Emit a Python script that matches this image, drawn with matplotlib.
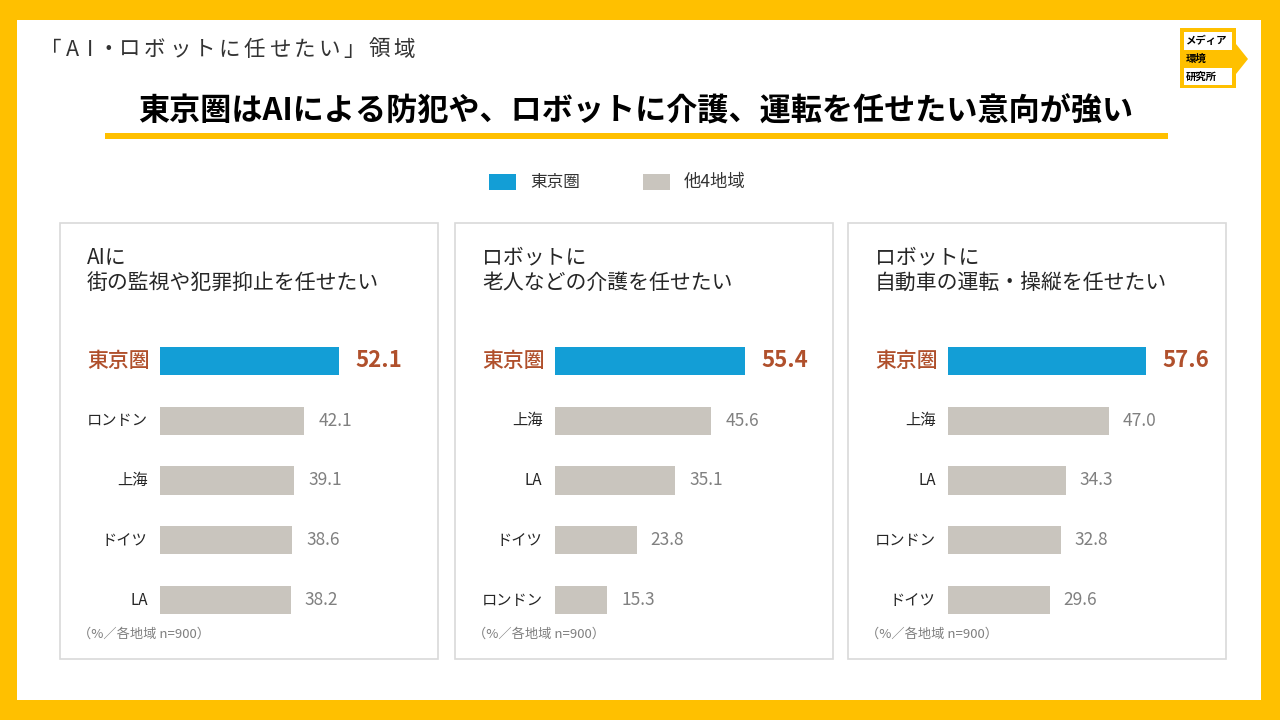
import matplotlib
matplotlib.use("Agg")
import matplotlib.pyplot as plt
from matplotlib.patches import Rectangle, Polygon

plt.rcParams['font.family'] = ['Noto Sans CJK JP', 'DejaVu Sans']

# データ
panel_titles = [
    "AIに\n街の監視や犯罪抑止を任せたい",
    "ロボットに\n老人などの介護を任せたい",
    "ロボットに\n自動車の運転・操縦を任せたい",
]
cats_1 = ["東京圏", "ロンドン", "上海", "ドイツ", "LA"]
vals_1 = [52.1, 42.1, 39.1, 38.6, 38.2]
cats_2 = ["東京圏", "上海", "LA", "ドイツ", "ロンドン"]
vals_2 = [55.4, 45.6, 35.1, 23.8, 15.3]
cats_3 = ["東京圏", "上海", "LA", "ロンドン", "ドイツ"]
vals_3 = [57.6, 47.0, 34.3, 32.8, 29.6]
note = "（%／各地域 n=900）"
header = "「AI・ロボットに任せたい」領域"

YELLOW = "#FFC000"
BLUE = "#139ED6"
GRAY = "#C9C5BE"
BROWN = "#B0502C"
W, H = 1280, 720

fig = plt.figure(figsize=(12.8, 7.2), dpi=100)
fig.patch.set_facecolor(YELLOW)

# 背景用の軸（ピクセル座標）
bg = fig.add_axes([0, 0, 1, 1])
bg.set_xlim(0, W)
bg.set_ylim(H, 0)
bg.axis("off")
bg.add_patch(Rectangle((17, 20), 1244, 680, facecolor="white", edgecolor="none"))

# 字間を空けた見出し
cx = 38
for ch in header:
    adv = 18 if ch in "AI・" else 25
    bg.text(cx + adv / 2, 50, ch, fontsize=15.5, color="#333333",
            va="center", ha="center")
    cx += adv

bg.text(636, 111, "東京圏はAIによる防犯や、ロボットに介護、運転を任せたい意向が強い",
        fontsize=22.4, fontweight="bold", color="black", va="center", ha="center")
bg.add_patch(Rectangle((105, 133), 1063, 6, facecolor=YELLOW, edgecolor="none"))

# ロゴ
bg.add_patch(Polygon([(1180, 28), (1236, 28), (1236, 44), (1248, 59),
                      (1236, 74), (1236, 88), (1180, 88)],
                     closed=True, facecolor=YELLOW, edgecolor="none"))
bg.add_patch(Rectangle((1184, 32), 48, 18, facecolor="white", edgecolor="none"))
bg.add_patch(Rectangle((1184, 68), 48, 17, facecolor="white", edgecolor="none"))
bg.text(1186, 41, "メディア", fontsize=7.5, fontweight="bold", va="center")
bg.text(1186, 59, "環境", fontsize=7.5, fontweight="bold", va="center")
bg.text(1186, 77, "研究所", fontsize=7.5, fontweight="bold", va="center")

# 凡例
bg.add_patch(Rectangle((489, 174), 27, 16, facecolor=BLUE, edgecolor="none"))
bg.text(530, 182, "東京圏", fontsize=12, color="#333333", va="center")
bg.add_patch(Rectangle((643, 174), 27, 16, facecolor=GRAY, edgecolor="none"))
bg.text(684, 182, "他4地域", fontsize=12.5, color="#333333", va="center")

panel_left = [60, 455, 848]
bar_left = [160, 555, 948]
panel_cats = [cats_1, cats_2, cats_3]
panel_vals = [vals_1, vals_2, vals_3]

px_per_unit = 3.43
ax_w = 250
ax_top, ax_bot = 331, 630

for i in range(3):
    x0 = panel_left[i]
    bg.add_patch(Rectangle((x0, 223), 378, 436, facecolor="white",
                           edgecolor="#D9D9D9", linewidth=1.2))
    bg.text(x0 + 27, 270, panel_titles[i], fontsize=15, color="#262626",
            va="center", ha="left", linespacing=1.2)
    bg.text(x0 + 18, 634, note, fontsize=9.5, color="#7F7F7F", va="center")

    ax = fig.add_axes([bar_left[i] / W, 1 - ax_bot / H, ax_w / W, (ax_bot - ax_top) / H])
    ax.set_xlim(0, ax_w / px_per_unit)
    ax.set_ylim(4.5, -0.5)
    ax.axis("off")
    cats = panel_cats[i]
    vals = panel_vals[i]
    colors = [BLUE] + [GRAY] * (len(vals) - 1)
    ax.barh(range(len(vals)), vals, height=0.47, color=colors)
    for j, (c, v) in enumerate(zip(cats, vals)):
        if j == 0:
            ax.annotate(c, xy=(0, j), xytext=(-7, 0), textcoords="offset points",
                        ha="right", va="center", fontsize=15, color=BROWN,
                        fontweight="medium", annotation_clip=False)
            ax.annotate(f"{v:.1f}", xy=(v, j), xytext=(12, 0), textcoords="offset points",
                        ha="left", va="center", fontsize=16, color=BROWN,
                        fontweight="bold", annotation_clip=False)
        else:
            ax.annotate(c, xy=(0, j), xytext=(-9, 0), textcoords="offset points",
                        ha="right", va="center", fontsize=11, color="#262626",
                        annotation_clip=False)
            ax.annotate(f"{v:.1f}", xy=(v, j), xytext=(10, 0), textcoords="offset points",
                        ha="left", va="center", fontsize=12.5, color="#808080",
                        annotation_clip=False)

fig.savefig("out.png", dpi=100, facecolor=fig.get_facecolor())
